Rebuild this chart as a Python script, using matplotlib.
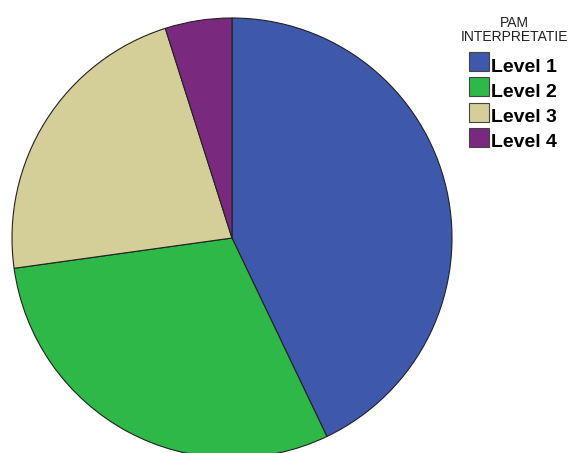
import matplotlib
matplotlib.use("Agg")
import matplotlib.pyplot as plt
from matplotlib.patches import Rectangle

plt.rcParams['font.family'] = ['Liberation Sans', 'DejaVu Sans']

# 数据
labels = ["Level 1", "Level 2", "Level 3", "Level 4"]
percents = [42.9, 29.9, 22.3, 4.9]
colors = ["#3E58AC", "#2EB848", "#D4CE99", "#7A2A7E"]
legend_title = "PAM\nINTERPRETATIE"

W, H = 578, 453
fig = plt.figure(figsize=(W / 100, H / 100), dpi=100)

# 饼图位置 (像素)
cx, cy, r = 232, 238, 220
ax = fig.add_axes([(cx - r) / W, (H - cy - r) / H, 2 * r / W, 2 * r / H])
wedges, _ = ax.pie(percents, colors=colors, startangle=90, counterclock=False,
                   radius=1, wedgeprops=dict(edgecolor="#222222", linewidth=0.8))
for w in wedges:
    w.set_clip_on(False)
ax.set_xlim(-1, 1)
ax.set_ylim(-1, 1)
ax.set_aspect("equal")
ax.axis("off")

# 图例
fig.text(514 / W, 1 - 30 / H, legend_title, ha="center", va="center",
         fontsize=10, linespacing=0.95, color="#222222")
y0 = 61.5
for i, (lab, col) in enumerate(zip(labels, colors)):
    y = y0 + i * 25.3
    fig.patches.append(Rectangle((469 / W, 1 - (y + 9.5) / H), 20 / W, 19 / H,
                                 transform=fig.transFigure, facecolor=col,
                                 edgecolor="#444444", linewidth=0.8))
    fig.text(491 / W, 1 - (y + 10) / H, lab, ha="left", va="baseline",
             fontsize=14, fontweight="bold", color="black")

plt.savefig("out.png", dpi=100)
plt.close()
